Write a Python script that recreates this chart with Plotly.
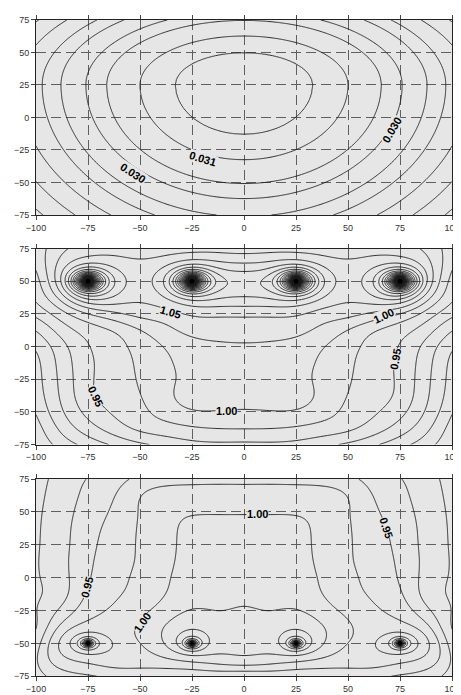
import numpy as np
import plotly.graph_objects as go

# ---------------- data ----------------
x_ticks = [-100, -75, -50, -25, 0, 25, 50, 75, 100]
y_ticks = [-75, -50, -25, 0, 25, 50, 75]

# panel 1: egg shaped maximum; contour radii read along y = 25
p1_center_y = 25
p1_stretch_above = 1.33
p1_stretch_below = 0.87
p1_radius = [0, 33, 50, 66, 76, 88, 97, 108, 119, 130, 141, 152]
p1_value = [0.0326, 0.032, 0.031, 0.030, 0.029, 0.028, 0.027, 0.026, 0.025, 0.024, 0.023, 0.022]

# panels 2 and 3: four sources
src_x = [-75, -25, 25, 75]
p2_src_y = 50
p2_strength = 1.4
p3_src_y = -50
p3_strength = 0.3

# panel 2: points read on contour lines (right half; the field is mirror symmetric)
p2_level = ([1.05] * 19 + [1.025] * 14 + [1.00] * 17 + [0.975] * 14 + [0.95] * 13 +
            [0.925] * 10 + [0.90] * 8 + [0.875] * 6 + [0.85] * 3 +
            [1.10, 1.075, 1.075, 1.04, 1.04, 1.04])
p2_x = ([0, 16, 29, 36, 45, 50, 60, 75, 84, 88, 86, 80, 70, 60, 50, 40, 25, 12, 0] +
        [0, 8, 18, 25, 35, 41, 52, 62, 75, 85, 91, 91, 87, 84] +
        [0, 12, 25, 31, 33, 34, 36, 42, 49, 58, 67, 75, 84, 91, 94, 95, 95] +
        [0, 20, 35, 45, 50, 53, 56, 62, 70, 80, 88, 95, 98, 100] +
        [0, 25, 45, 60, 68, 72, 72, 72, 74, 78, 86, 94, 100] +
        [45, 62, 74, 80, 82, 83, 85, 90, 96, 100] +
        [65, 78, 86, 89, 90, 92, 96, 100] +
        [80, 90, 95, 97, 98, 100] +
        [92, 97, 100] +
        [0, 0, 12, 0, 30, 55])
p2_y = ([22.5, 22.5, 25, 28, 32, 34, 33, 33, 40, 50, 60, 67, 70, 69, 67, 69, 72, 72, 71] +
        [3, 3, 5, 7.4, 14, 20, 22.5, 25, 29, 36, 50, 62, 72, 75] +
        [-48, -49, -48, -45, -30, -15, -5, 4, 12, 18, 23, 26, 31, 40, 50, 62, 75] +
        [-63, -62, -58, -50, -35, -15, 0, 10, 16, 20, 28, 38, 50, 58] +
        [-73, -72, -67, -57, -45, -35, -22, -10, 0, 8, 18, 27, 33] +
        [-75, -68, -57, -45, -30, -12, 0, 10, 18, 22] +
        [-75, -66, -52, -35, -18, -2, 6, 12] +
        [-75, -62, -45, -28, -12, -4] +
        [-75, -62, -52] +
        [57.7, 63.7, 65, 75, 75, 74])

# panel 3: points read on contour lines (right half)
p3_level = ([1.00] * 18 + [1.025] * 8 + [0.975] * 21 + [0.95] * 12 + [0.925] * 11 + [0.90] * 6 +
            [1.035, 1.035])
p3_x = ([0, 13, 25, 30, 32, 33, 35, 38, 42, 48, 52, 52, 49, 44, 36, 25, 12, 0] +
        [0, 20, 33, 39, 39, 33, 20, 0] +
        [0, 10, 20, 30, 38, 46, 50, 51, 52, 53, 55, 57, 64, 75, 86, 89, 83, 70, 50, 25, 0] +
        [55, 62, 68.5, 72, 75, 79, 87, 93, 95, 90, 80, 70] +
        [76, 80, 83, 84, 84, 86, 92, 97, 99, 97, 95] +
        [94, 96, 98, 98, 99, 100] +
        [0, 10])
p3_y = ([48, 48, 47, 44, 35, 16, 1, -12, -22, -28, -36, -44, -52, -57, -61.5, -64, -66, -67] +
        [-21.7, -24, -29, -40, -48, -57, -59, -59] +
        [71, 71, 71, 70.5, 69.5, 67, 60, 48, 30, 10, 0, -8, -22, -33, -42, -52, -62, -67, -69, -70, -71] +
        [75, 62, 38, 15, -7, -20, -32, -45, -58, -68, -73, -75] +
        [75, 60, 40, 20, 0, -18, -33, -48, -60, -72, -75] +
        [75, 60, 30, 0, -20, -30] +
        [-40, -38])

# ---------------- fields ----------------
gx = np.linspace(-100, 100, 401)
gy = np.linspace(-75, 75, 301)
X, Y = np.meshgrid(gx, gy)

dy1 = np.where(Y > p1_center_y, (Y - p1_center_y) * p1_stretch_above,
               (Y - p1_center_y) * p1_stretch_below)
Z1 = np.interp(np.sqrt(X ** 2 + dy1 ** 2), p1_radius, p1_value)


def sources(px, py, sy, A):
    s = np.zeros_like(px, dtype=float)
    for sx in src_x:
        r = np.sqrt((px - sx) ** 2 + (py - sy) ** 2)
        s += A * np.exp(-r / 40.0) / np.sqrt(r ** 2 + 0.25)
    return s


def bspl(t):
    a = np.abs(t)
    return np.where(a < 1, 2 / 3 - a ** 2 + a ** 3 / 2, np.where(a < 2, (2 - a) ** 3 / 6, 0.0))


KH = 12.5
kx = np.arange(-125, 125.1, KH)
ky = np.arange(-100, 100.1, KH)


def basis(v, knots):
    return bspl((np.asarray(v, float)[:, None] - knots[None, :]) / KH)


def smooth_background(lv, xs, ys, sy, A, lam):
    xs = np.asarray(xs, float)
    ys = np.asarray(ys, float)
    lv = np.asarray(lv, float)
    xs, ys, lv = np.r_[xs, -xs], np.r_[ys, ys], np.r_[lv, lv]
    Bx, By = basis(xs, kx), basis(ys, ky)
    B = (Bx[:, :, None] * By[:, None, :]).reshape(len(xs), -1)
    rhs = lv - sources(xs, ys, sy, A)
    nx, ny = len(kx), len(ky)
    Dx = np.diff(np.eye(nx), 2, axis=0)
    Dy = np.diff(np.eye(ny), 2, axis=0)
    P = np.kron(Dx.T @ Dx, np.eye(ny)) + np.kron(np.eye(nx), Dy.T @ Dy)
    c = np.linalg.solve(B.T @ B + lam * P + 1e-9 * np.eye(nx * ny), B.T @ rhs).reshape(nx, ny)
    return basis(gy, ky) @ c.T @ basis(gx, kx).T


Z2 = (smooth_background(p2_level, p2_x, p2_y, p2_src_y, p2_strength, 0.0015)
      + sources(X, Y, p2_src_y, p2_strength))
Z3 = (smooth_background(p3_level, p3_x, p3_y, p3_src_y, p3_strength, 0.001)
      + sources(X, Y, p3_src_y, p3_strength))

fig = go.Figure()
panels = [(Z1, 0.0200, 0.0325, 0.001, "x", "y"),
          (Z2, 0.700, 3.2, 0.025, "x2", "y2"),
          (Z3, 0.700, 1.25, 0.025, "x3", "y3")]
for Z, s, e, d, xa, ya in panels:
    fig.add_trace(go.Contour(
        x=gx, y=gy, z=Z, xaxis=xa, yaxis=ya,
        contours=dict(start=s, end=e, size=d, coloring="none"),
        line=dict(color="#1a1a1a", width=0.9),
        showscale=False, hoverinfo="skip"))

# source centres drawn as small black dots
fig.add_trace(go.Scatter(x=src_x, y=[p2_src_y] * len(src_x), xaxis="x2", yaxis="y2",
                         mode="markers", marker=dict(color="black", size=5),
                         hoverinfo="skip"))
fig.add_trace(go.Scatter(x=src_x, y=[p3_src_y] * len(src_x), xaxis="x3", yaxis="y3",
                         mode="markers", marker=dict(color="black", size=4),
                         hoverinfo="skip"))

# the page body adds an 8 px offset, so the figure is 8 px smaller
domains = [[0.7016, 0.9898], [0.3625, 0.6521], [0.0204, 0.3115]]
axfont = dict(family="Liberation Sans, Arial, sans-serif", size=9, color="#333333")
common = dict(showline=True, linecolor="#222222", linewidth=1, mirror="ticks",
              ticks="outside", ticklen=4, tickcolor="#444444",
              showgrid=True, gridcolor="#5f5f5f", griddash="10px,5px", gridwidth=1,
              zeroline=False, tickfont=axfont, ticklabeloverflow="allow")
lay = {}
for i, dom in enumerate(domains):
    sfx = "" if i == 0 else str(i + 1)
    lay["xaxis" + sfx] = dict(range=[-100, 100], tickvals=x_ticks, anchor="y" + sfx,
                              domain=[0, 1], **common)
    lay["yaxis" + sfx] = dict(range=[-75, 75], tickvals=y_ticks, anchor="x" + sfx,
                              domain=dom, **common)

fig.update_layout(width=453, height=687, margin=dict(l=28, r=9, t=0, b=0),
                  paper_bgcolor="white", plot_bgcolor="#e6e6e6", showlegend=False,
                  **lay)

lab = dict(family="Liberation Sans, Arial, sans-serif", size=11, color="black")
notes = [("x", "y", -19.5, -32, "0.031", 17), ("x", "y", -53.5, -43, "0.030", 33),
         ("x", "y", 71, -9.5, "0.030", -60),
         ("x2", "y2", -35.5, 26.8, "1.05", 16), ("x2", "y2", 67, 23.4, "1.00", -25),
         ("x2", "y2", -71.5, -38, "0.95", 65), ("x2", "y2", 72.6, -10, "0.95", -80),
         ("x2", "y2", -8.5, -49.5, "1.00", 0),
         ("x3", "y3", 6.5, 48.7, "1.00", 0), ("x3", "y3", 68.5, 38, "0.95", 72),
         ("x3", "y3", -75.5, -7, "0.95", -75), ("x3", "y3", -49, -34.5, "1.00", -55)]
fig.update_layout(annotations=[dict(xref=a, yref=b, x=px, y=py, text="<b>%s</b>" % t,
                                    showarrow=False, textangle=ang, font=lab,
                                    bgcolor="#e6e6e6", borderpad=0)
                               for a, b, px, py, t, ang in notes])
fig.write_html("out.html")
